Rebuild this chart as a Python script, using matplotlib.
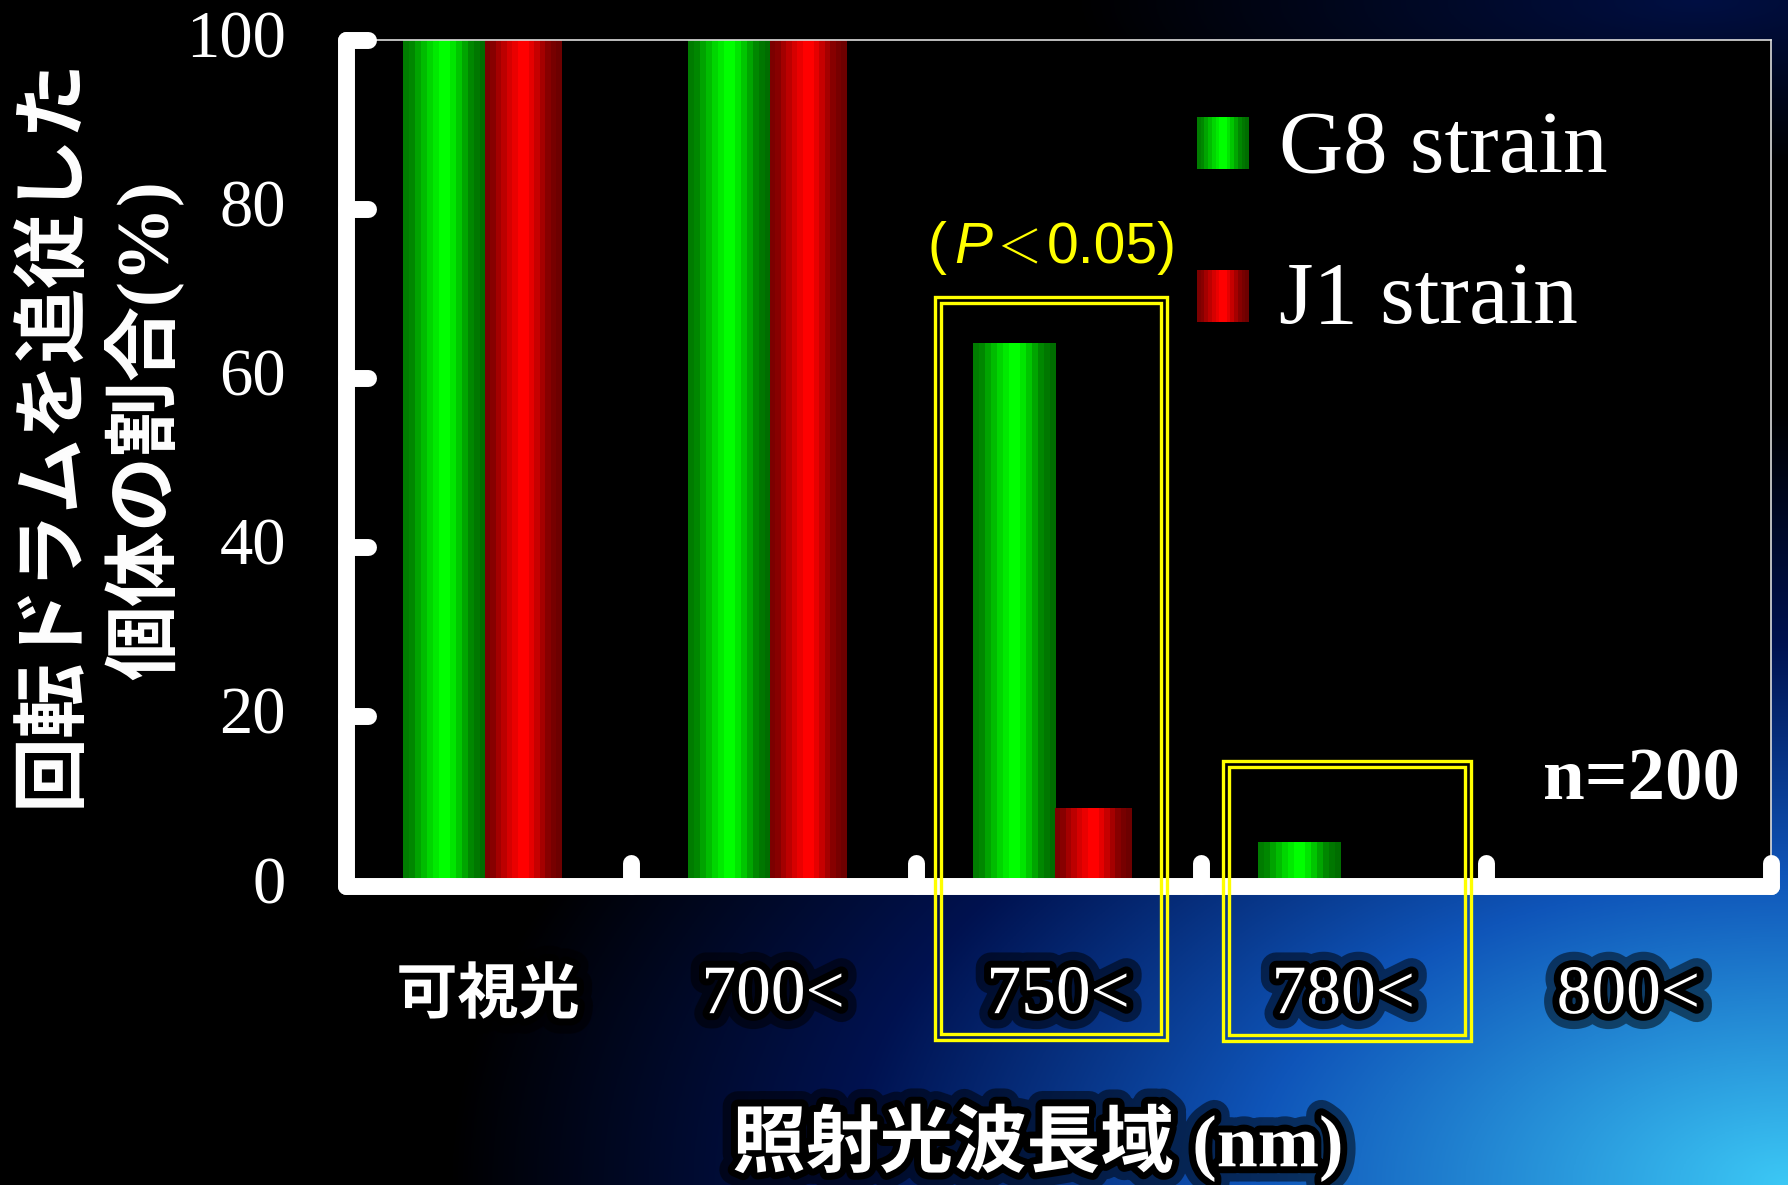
import numpy as np
import matplotlib.pyplot as plt
import matplotlib.patheffects as pe
from matplotlib.patches import Rectangle
from matplotlib.transforms import ScaledTranslation

# data
categories = ['可視光', '700<', '750<', '780<', '800<']
g8_values = [100, 100, 64, 5, 0]
j1_values = [100, 100, 9, 0, 0]
series_names = ['G8 strain', 'J1 strain']
y_ticks = [0, 20, 40, 60, 80, 100]
y_label_lines = ['回転ドラムを追従した', '個体の割合(%)']
x_label = '照射光波長域 (nm)'
n_note = 'n=200'

W, H = 1788, 1185
JP = 'Noto Sans CJK JP'
SERIF = 'Liberation Serif'
SANS = 'Liberation Sans'

fig = plt.figure(figsize=(W / 100, H / 100), dpi=100, facecolor='black')

# night-sky background, black left, blue/cyan glow bottom right
bg = fig.add_axes([0, 0, 1, 1], zorder=-10)
yy, xx = np.mgrid[0:1:400j, 0:1:600j]
w = np.clip(1 - np.hypot(xx - 1.0, (yy - 1.0) * 1.15) / 0.75, 0, 1)
w2 = np.clip(1 - np.hypot((xx - 0.95) * 1.0, yy * 2.5) / 0.35, 0, 1) * 0.25
w = np.maximum(w, w2)
stops = [0, 0.3, 0.6, 1.0]
cols = np.array([(0, 0, 0), (0, 18, 80), (15, 85, 185), (60, 200, 245)]) / 255
rgb = np.dstack([np.interp(w, stops, cols[:, k]) for k in range(3)])
bg.imshow(rgb, aspect='auto', extent=[0, 1, 0, 1])
bg.axis('off')

# main axes
ax = fig.add_axes([345.5 / W, 1 - 885.5 / H, (1771 - 345.5) / W, (885.5 - 40) / H])
ax.set_facecolor('black')

x = np.arange(len(categories)) + 0.5
gbars = ax.bar(x - 0.30, g8_values, width=0.29, align='edge', color='none', linewidth=0)
rbars = ax.bar(x - 0.01, j1_values, width=0.27, align='edge', color='none', linewidth=0)

# banded cylinder shading
shade = np.array([0.49, 0.53, 0.64, 0.74, 0.84, 0.92, 1.0, 1.0, 0.9, 0.78, 0.65, 0.53, 0.47, 0.43])
zero = np.zeros_like(shade)
green_img = np.dstack([zero, shade, zero])
red_img = np.dstack([shade, zero, zero])

for bars, img in [(gbars, green_img), (rbars, red_img)]:
    for b in bars:
        if b.get_height() <= 0:
            continue
        x0, w_ = b.get_x(), b.get_width()
        ax.imshow(img, extent=[x0, x0 + w_, 0, b.get_height()], aspect='auto',
                  interpolation='nearest', zorder=1)

ax.set_xlim(0, len(categories))
ax.set_ylim(0, 100)

# spines
for s in ['left', 'bottom']:
    ax.spines[s].set_color('white')
    ax.spines[s].set_linewidth(12.2)
    ax.spines[s].set_capstyle('round')
for s in ['top', 'right']:
    ax.spines[s].set_color('#dddddd')
    ax.spines[s].set_linewidth(1.2)

# rounded tick stubs
for t in y_ticks[1:]:
    ax.plot([0, 0.0158], [t, t], transform=ax.get_yaxis_transform(), color='white',
            lw=12.2, solid_capstyle='round', clip_on=False, zorder=4)
for b in range(1, len(categories) + 1):
    ax.plot([b, b], [0, 0.0266], transform=ax.get_xaxis_transform(), color='white',
            lw=12.2, solid_capstyle='round', clip_on=False, zorder=4)

ax.tick_params(length=0)
ax.set_yticks(y_ticks)
ax.set_yticklabels([str(v) for v in y_ticks], fontsize=48, family=SERIF, color='white')
ax.tick_params(axis='y', pad=43)
lift = ScaledTranslation(0, 6 / 100, fig.dpi_scale_trans)
for lab in ax.get_yticklabels():
    lab.set_transform(lab.get_transform() + lift)
ax.set_xticks([])

glow = [pe.withStroke(linewidth=22, foreground='black', alpha=0.5),
        pe.withStroke(linewidth=10, foreground='black')]
for xi, lab in zip(x, categories):
    if lab.isascii():
        ax.text(xi, -0.151, lab, transform=ax.get_xaxis_transform(), ha='center',
                va='baseline', fontsize=50, family=SERIF, color='white', path_effects=glow)
    else:
        ax.text(xi, -0.151, lab, transform=ax.get_xaxis_transform(), ha='center',
                va='baseline', fontsize=44, family=JP, weight='bold', color='white',
                path_effects=glow)

# yellow double boxes around the significant groups
def double_box(x0, x1, y0, y1, gap=6):
    for k in range(2):
        p0, p1 = ax.transData.transform([(x0, y0), (x1, y1)])
        p0 = p0 + k * gap
        p1 = p1 - k * gap
        d0, d1 = ax.transData.inverted().transform([p0, p1])
        ax.add_patch(Rectangle(d0, d1[0] - d0[0], d1[1] - d0[1], fill=False,
                               edgecolor='#ffff00', lw=2.4, clip_on=False, zorder=6))

double_box(2.068, 2.881, -18.3, 69.6)
double_box(3.078, 3.947, -18.4, 14.7)

# p-value note
yel = '#ffff00'
fig.text(937 / W, 1 - 263 / H, '(', ha='center', va='baseline', fontsize=41, family=SANS, color=yel)
fig.text(973 / W, 1 - 263 / H, 'P', ha='center', va='baseline', fontsize=41, family=SANS,
         style='italic', color=yel)
fig.text(1019 / W, 1 - 263 / H, '＜', ha='center', va='baseline', fontsize=33, family=JP,
         weight='light', color=yel)
fig.text(1112 / W, 1 - 263 / H, '0.05)', ha='center', va='baseline', fontsize=41, family=SANS,
         color=yel)

# legend
for name, img, top, base in [(series_names[0], green_img, 117, 172),
                             (series_names[1], red_img, 270, 323)]:
    la = fig.add_axes([1197 / W, 1 - (top + 52) / H, 52 / W, 52 / H])
    la.imshow(img, aspect='auto', interpolation='nearest')
    la.axis('off')
    fig.text(1279 / W, 1 - base / H, name, ha='left', va='baseline', fontsize=64,
             family=SERIF, color='white')

fig.text(1740 / W, 1 - 799 / H, n_note, ha='right', va='baseline', fontsize=54,
         family=SERIF, weight='bold', color='white')

# axis titles
fig.text(51 / W, 1 - 432 / H, y_label_lines[0], rotation=90, ha='center', va='center',
         fontsize=54, family=JP, weight='bold', color='white')
fig.text(143 / W, 1 - 430 / H, y_label_lines[1], rotation=90, ha='center', va='center',
         fontsize=54, family=[SERIF, JP], weight='bold', color='white')
fig.text(1038 / W, 1 - 1143 / H, x_label, ha='center', va='center', fontsize=53,
         family=[SERIF, JP], weight='bold', color='white', path_effects=glow)

fig.savefig('out.png', dpi=100, facecolor='black')
